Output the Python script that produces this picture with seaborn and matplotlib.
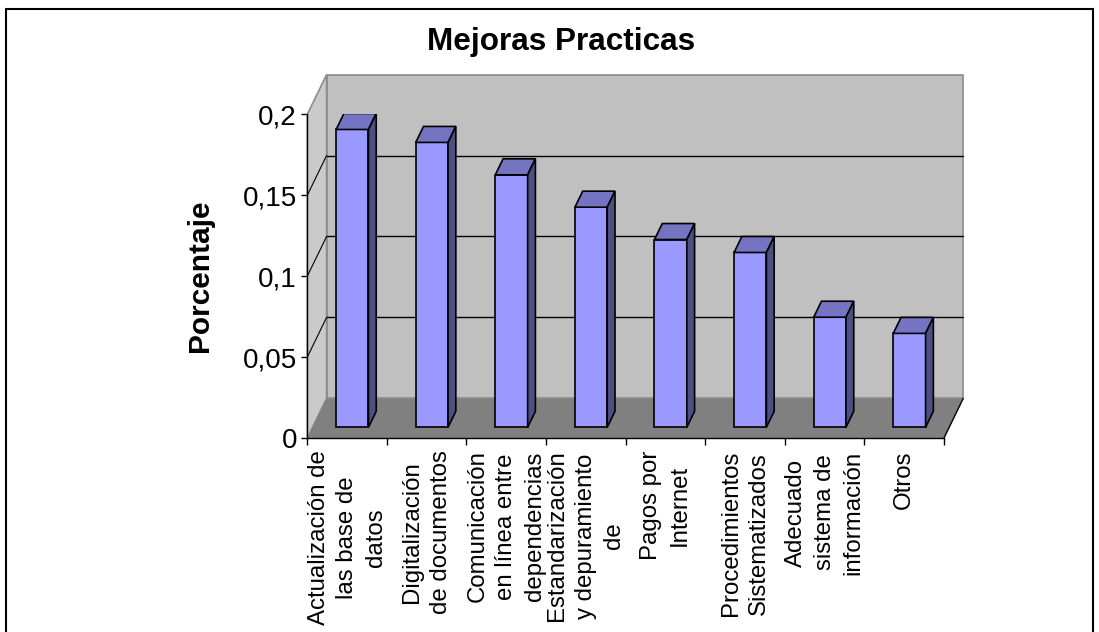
import numpy as np
import matplotlib
matplotlib.use("Agg")
import matplotlib.pyplot as plt
from matplotlib.patches import Polygon, Rectangle
from matplotlib.ticker import FixedLocator, FuncFormatter
import seaborn as sns

sns.set_style("white")
plt.rcParams["font.family"] = ["Liberation Sans", "DejaVu Sans"]
plt.rcParams.update({"text.color": "black", "axes.labelcolor": "black",
                     "xtick.color": "black", "ytick.color": "black"})

categorias = [
    "Actualización de\nlas base de\ndatos",
    "Digitalización\nde documentos",
    "Comunicación\nen línea entre\ndependencias",
    "Estandarización\ny depuramiento\nde",
    "Pagos por\nInternet",
    "Procedimientos\nSistematizados",
    "Adecuado\nsistema de\ninformación",
    "Otros",
]
porcentaje = [0.184, 0.176, 0.156, 0.136, 0.116, 0.108, 0.068, 0.058]
y_ticks = [0, 0.05, 0.1, 0.15, 0.2]

# pseudo-3D depth of the plot box (data units) and bar position inside it
DX, DY = 0.2425, 0.02453
F0, F1 = 0.27, 0.673
BAR_W = 0.406

fig = plt.figure(figsize=(10.99, 6.32), dpi=100)
ax = fig.add_axes([307.3 / 1099, 194 / 632, 636.7 / 1099, 323.7 / 632])

sns.barplot(x=categorias, y=porcentaje, color="#9999FF", width=BAR_W,
            edgecolor="black", linewidth=1.2, saturation=1, ax=ax, zorder=4)
bars = list(ax.patches)

ax.set_xlim(-0.5, 7.5)
ax.set_ylim(0, 0.2)

# walls and floor
n = len(categorias)
x_l, x_r = -0.5, n - 0.5
ax.add_patch(Rectangle((x_l + DX, DY), n, 0.2, facecolor="#C0C0C0",
                       edgecolor="#8C8C8C", lw=1.2, zorder=0.5, clip_on=False))
ax.add_patch(Polygon([(x_l, 0), (x_l + DX, DY), (x_l + DX, 0.2 + DY), (x_l, 0.2)],
                     facecolor="#CACACA", edgecolor="#8C8C8C", lw=1.2,
                     zorder=0.6, clip_on=False))
ax.add_patch(Polygon([(x_l, 0), (x_r, 0), (x_r + DX, DY), (x_l + DX, DY)],
                     facecolor="#808080", edgecolor="none", zorder=0.7, clip_on=False))
ax.plot([x_r, x_r + DX], [0, DY], color="black", lw=1.0, zorder=0.8, clip_on=False)

for v in y_ticks[1:-1]:
    ax.plot([x_l + DX, x_r + DX], [v + DY, v + DY], color="black", lw=1.0,
            zorder=0.9, clip_on=False)
    ax.plot([x_l, x_l + DX], [v, v + DY], color="black", lw=0.8,
            zorder=0.9, clip_on=False)

# move bar fronts into the box and add top / side faces
ddx, ddy = (F1 - F0) * DX, (F1 - F0) * DY
for p, val in zip(bars, porcentaje):
    p.set_x(p.get_x() + F0 * DX)
    p.set_y(F0 * DY)
    x0 = p.get_x()
    x1 = x0 + p.get_width()
    y0 = F0 * DY
    h = y0 + val
    ax.add_patch(Polygon([(x0, h), (x1, h), (x1 + ddx, h + ddy), (x0 + ddx, h + ddy)],
                         facecolor="#7474C2", edgecolor="black", lw=1.2, zorder=4))
    ax.add_patch(Polygon([(x1, y0), (x1 + ddx, y0 + ddy), (x1 + ddx, h + ddy), (x1, h)],
                         facecolor="#4E4E82", edgecolor="black", lw=1.2, zorder=4))

# axes
for s in ["top", "right"]:
    ax.spines[s].set_visible(False)
for s in ["left", "bottom"]:
    ax.spines[s].set_color("black")
    ax.spines[s].set_linewidth(1.0)
    ax.spines[s].set_zorder(5)

ax.yaxis.set_major_locator(FixedLocator(y_ticks))
ax.yaxis.set_major_formatter(FuncFormatter(lambda v, _: f"{v:g}".replace(".", ",")))
ax.tick_params(axis="y", direction="out", length=4.5, width=1, color="black",
               labelsize=20, pad=3, left=True)

ax.set_xticks(range(n))
ax.set_xticklabels(categorias, rotation=90, ha="center", va="top",
                   multialignment="center", fontsize=17.3, linespacing=1.38)
ax.xaxis.set_minor_locator(FixedLocator(np.arange(-0.5, n, 1.0)))
ax.tick_params(axis="x", which="major", length=0, pad=9)
ax.tick_params(axis="x", which="minor", direction="out", length=5, width=1,
               color="black", bottom=True)

ax.set_xlabel("")
ax.set_ylabel("Porcentaje", fontsize=21.5, fontweight="bold")
ax.yaxis.set_label_coords(-0.1465, 0.5)

fig.text(561 / 1099, 1 - 50 / 632, "Mejoras Practicas", ha="center", va="baseline",
         fontsize=22.7, fontweight="bold")

fig.patches.append(Rectangle((6 / 1099, -0.1), 1087 / 1099, (632 - 9) / 632 + 0.1,
                             transform=fig.transFigure, fill=False,
                             edgecolor="black", lw=1.5))

fig.savefig("out.png", dpi=100)
